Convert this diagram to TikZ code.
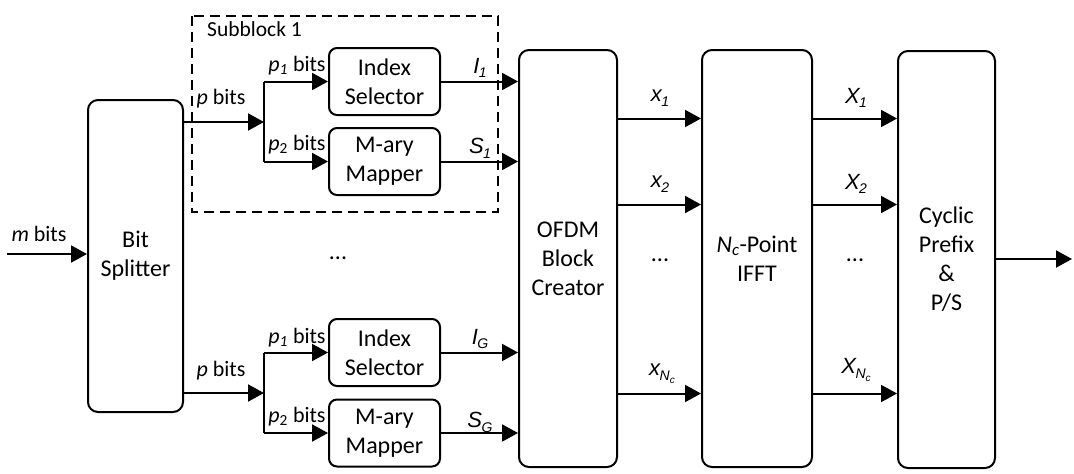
\documentclass[tikz,border=0pt]{standalone}
\usepackage{fontspec}
\setmainfont{Carlito}
\newfontfamily\sigfont{Liberation Sans}
\usetikzlibrary{arrows.meta}
% italic signal name with a lowered subscript
\newcommand\sg[2]{#1\kern-0.5pt\raisebox{-0.22em}{\fontsize{14}{14}\selectfont #2}}
\newcommand\ssg[1]{\raisebox{-0.2em}{\fontsize{10}{10}\selectfont #1}}
\begin{document}
\begin{tikzpicture}[x=1pt,y=-1pt,
  blk/.style={draw, line width=2pt, rounded corners=10pt, align=center,
    font=\fontsize{24}{29}\selectfont, inner sep=0pt},
  sml/.style={draw, line width=2pt, rounded corners=8pt, align=center,
    minimum width=111pt, minimum height=67pt,
    font=\fontsize{24}{29}\selectfont, inner sep=0pt},
  arr/.style={line width=2pt, -{Triangle[length=16pt,width=17pt]}},
  wire/.style={line width=2pt},
  lbl/.style={font=\fontsize{22}{26}\selectfont, inner sep=0pt},
  sig/.style={font=\sigfont\itshape\fontsize{22}{26}\selectfont, inner sep=0pt},
  dots/.style={font=\fontsize{24}{29}\selectfont, inner sep=0pt}]
\useasboundingbox (0,0) rectangle (1074,474);

% subblock frame
\draw[line width=1.6pt, dash pattern=on 10pt off 6pt] (192,16) rectangle (498,212);
\node[font=\fontsize{21.5}{26}\selectfont, anchor=west, inner sep=0pt] (sbl) at (207,29) {Subblock 1};

% main blocks
\node[blk, minimum width=95pt, minimum height=312pt] (bs) at (135.5,256) {Bit\\Splitter};
\node[blk, minimum width=98pt, minimum height=417pt] (ofdm) at (568,258.5) {OFDM\\Block\\Creator};
\node[blk, minimum width=110pt, minimum height=417pt] (ifft) at (757,258.5) {\textit{N}\textsubscript{\textit{c}}-Point\\IFFT};
\node[blk, minimum width=97pt, minimum height=417pt] (cp) at (946.5,259.5) {Cyclic\\Prefix\\\&\\P/S};

% subblock boxes
\node[sml] (is1) at (384.5,81.5) {Index\\Selector};
\node[sml] (mm1) at (384.5,161.5) {M-ary\\Mapper};
\node[sml] (isG) at (384.5,352.5) {Index\\Selector};
\node[sml] (mmG) at (384.5,433) {M-ary\\Mapper};

% branch points and free ends
\coordinate (br1) at (264,122);
\coordinate (brG) at (264,393);
\coordinate (in) at (7,254);
\coordinate (out) at (1072,259);
\coordinate (r1) at (0,118.5);
\coordinate (r2) at (0,204.5);
\coordinate (r3) at (0,393.5);

% input and splitter outputs
\draw[arr] (in) -- (bs.west |- in);
\draw[arr] (bs.east |- br1) -- (br1);
\draw[arr] (bs.east |- brG) -- (brG);
\draw[wire] (is1.west -| br1) -- (mm1.west -| br1);
\draw[wire] (isG.west -| brG) -- (mmG.west -| brG);
\draw[arr] (is1.west -| br1) -- (is1.west);
\draw[arr] (mm1.west -| br1) -- (mm1.west);
\draw[arr] (isG.west -| brG) -- (isG.west);
\draw[arr] (mmG.west -| brG) -- (mmG.west);

% into the block creator
\draw[arr] (is1.east) -- (is1.east -| ofdm.west);
\draw[arr] (mm1.east) -- (mm1.east -| ofdm.west);
\draw[arr] (isG.east) -- (isG.east -| ofdm.west);
\draw[arr] (mmG.east) -- (mmG.east -| ofdm.west);

% parallel streams
\draw[arr] (ofdm.east |- r1) -- (ifft.west |- r1);
\draw[arr] (ofdm.east |- r2) -- (ifft.west |- r2);
\draw[arr] (ofdm.east |- r3) -- (ifft.west |- r3);
\draw[arr] (ifft.east |- r1) -- (cp.west |- r1);
\draw[arr] (ifft.east |- r2) -- (cp.west |- r2);
\draw[arr] (ifft.east |- r3) -- (cp.west |- r3);
\draw[arr] (cp.east |- out) -- (out);

% bit labels
\node[lbl] (lm) at (39,234) {\textit{m} bits};
\node[lbl] (lp1) at (221,99) {\textit{p} bits};
\node[lbl] (lpG) at (221,371) {\textit{p} bits};
\node[lbl] (lp11) at (297,66) {\textit{p}\textsubscript{\textit{1}} bits};
\node[lbl] (lp21) at (297,145) {\textit{p}\textsubscript{2} bits};
\node[lbl] (lp1G) at (297,338) {\textit{p}\textsubscript{\textit{1}} bits};
\node[lbl] (lp2G) at (297,417) {\textit{p}\textsubscript{2} bits};

% signal labels
\node[sig] (lI1) at (480,68) {\sg{I}{1}};
\node[sig] (lS1) at (480,148) {\sg{S}{1}};
\node[sig] (lIG) at (480,339) {\sg{I}{G}};
\node[sig] (lSG) at (480,422) {\sg{S}{G}};
\node[sig] (lx1) at (660,98) {\sg{x}{1}};
\node[sig] (lx2) at (660,184) {\sg{x}{2}};
\node[sig] (lxN) at (662,374) {\sg{x}{N\ssg{c}}};
\node[sig] (lX1) at (856,98) {\sg{X}{1}};
\node[sig] (lX2) at (856,184) {\sg{X}{2}};
\node[sig] (lXN) at (856,370) {\sg{X}{N\ssg{c}}};

% ellipses
\node[dots] (d1) at (338,258) {...};
\node[dots] (d2) at (660,260) {...};
\node[dots] (d3) at (855,260) {...};
\end{tikzpicture}
\end{document}
